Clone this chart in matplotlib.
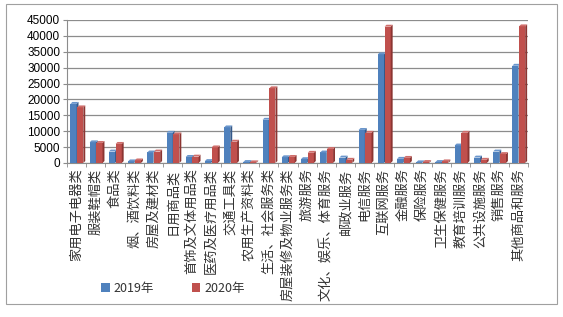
import numpy as np
import matplotlib.pyplot as plt
from matplotlib.patches import Polygon, Rectangle

plt.rcParams['font.family'] = ['Noto Sans CJK SC', 'DejaVu Sans']

categories = ["家用电子电器类", "服装鞋帽类", "食品类", "烟、酒饮料类", "房屋及建材类",
              "日用商品类", "首饰及文体用品类", "医药及医疗用品类", "交通工具类",
              "农用生产资料类", "生活、社会服务类", "房屋装修及物业服务类", "旅游服务",
              "文化、娱乐、体育服务", "邮政业服务", "电信服务", "互联网服务", "金融服务",
              "保险服务", "卫生保健服务", "教育培训服务", "公共设施服务", "销售服务",
              "其他商品和服务"]
v2019 = [18600, 6500, 3600, 500, 3300, 9500, 1900, 600, 11200, 300, 13600, 1800,
         1200, 3300, 1700, 10400, 34200, 1300, 200, 300, 5500, 1700, 3600, 30600]
v2020 = [17500, 6300, 6000, 800, 3600, 9000, 2000, 4900, 6700, 200, 23500, 1900,
         3200, 4400, 1000, 9500, 42900, 1600, 300, 500, 9500, 1000, 2800, 43000]
yticks = list(range(0, 45001, 5000))

fig = plt.figure(figsize=(5.63, 3.17), dpi=100)
fig.patches.append(Rectangle((0.011, 0.04), 0.979, 0.948, transform=fig.transFigure,
                             fill=False, edgecolor='#a0a0a0', lw=0.8))
ax = fig.add_axes([0.119, 0.486, 0.819, 0.451])

x = np.arange(len(categories))
w = 0.32
dx, dy = 0.1, 600


def bars3d(xs, hs, front, side, top, label):
    ax.bar(xs, hs, w, color=front, label=label, zorder=3, edgecolor='none')
    for xi, h in zip(xs, hs):
        x0, x1 = xi - w / 2, xi + w / 2
        ax.add_patch(Polygon([(x1, 0), (x1 + dx, dy), (x1 + dx, h + dy), (x1, h)],
                             closed=True, color=side, zorder=3, lw=0, clip_on=False))
        ax.add_patch(Polygon([(x0, h), (x0 + dx, h + dy), (x1 + dx, h + dy), (x1, h)],
                             closed=True, color=top, zorder=3, lw=0, clip_on=False))


bars3d(x - 0.16, v2019, '#4f81bd', '#34598a', '#6a96cc', '2019年')
bars3d(x + 0.19, v2020, '#c0504d', '#8c3532', '#cf6e6b', '2020年')

ax.set_xlim(-0.5, len(categories) - 0.5)
ax.set_ylim(0, 45000)
ax.set_yticks(yticks)
ax.set_yticklabels([str(t) for t in yticks], family='Liberation Sans', fontsize=8.5)
ax.yaxis.grid(True, color='#8c8c8c', lw=0.9, zorder=0)
ax.set_axisbelow(True)

ax.set_xticks(x)
ax.set_xticklabels(categories, rotation=90, fontsize=9.5, color='#333333')
ax.set_xticks(np.arange(-0.5, len(categories)), minor=True)
ax.tick_params(axis='x', which='major', length=0, pad=4)
ax.tick_params(axis='x', which='minor', length=3, color='#8c8c8c')
ax.tick_params(axis='y', length=3, color='#8c8c8c', pad=2)

for s in ['top', 'right']:
    ax.spines[s].set_visible(False)
for s in ['left', 'bottom']:
    ax.spines[s].set_color('#8c8c8c')

leg = fig.legend(loc='lower left', bbox_to_anchor=(0.16, 0.035), ncol=2, frameon=False,
                 fontsize=9, handlelength=0.7, handleheight=0.7, handletextpad=0.3,
                 columnspacing=3.0)
for t in leg.get_texts():
    t.set_color('#333333')

fig.savefig('out.png', dpi=100)
